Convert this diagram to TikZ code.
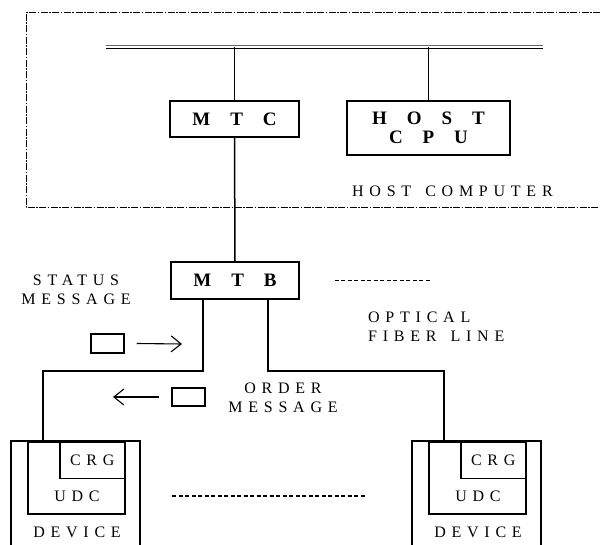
\documentclass[tikz,border=0pt]{standalone}
\usepackage{fontspec}
\setmainfont{Liberation Serif}
\newfontfamily\boxfont[LetterSpace=105]{Liberation Serif}
\newfontfamily\lblfont[LetterSpace=36]{Liberation Serif}
\usetikzlibrary{arrows.meta}
\usetikzlibrary{positioning,calc}

\tikzset{
  unitbox/.style={draw,line width=1.7pt,inner sep=0pt,align=center,
    font=\boxfont\bfseries\fontsize{19}{19}\selectfont},
  lbl/.style={inner sep=0pt,align=center,font=\lblfont\fontsize{16}{18.5}\selectfont},
  link/.style={line width=1.5pt},
  msg/.style={draw,line width=1.5pt,minimum width=33pt,minimum height=19pt,inner sep=0pt},
  flow/.style={line width=1.1pt,-{Straight Barb[length=10pt,width=16pt]}},
  etc/.style={line width=1.4pt,dash pattern=on 4pt off 2.5pt},
  hostline/.style={line width=1pt,dash pattern=on 7pt off 1.5pt on 1.5pt off 1.5pt},
  busline/.style={line width=0.8pt}
}

\begin{document}
\begin{tikzpicture}[x=1pt,y=-1pt]
    \useasboundingbox (0,0) rectangle (600,545);
    % host computer
    \draw[hostline] (600,13) -- (26,13) -- (26,208) -- (600,208);
    \node[lbl,anchor=west] (hostlbl) at (352,191) {HOST\hskip 14pt\relax COMPUTER};
    \coordinate (busW) at (106,47);
    \coordinate (busE) at (543,47);
    \draw[busline,black!60] ([yshift=1.2pt]busW) -- ([yshift=1.2pt]busE);
    \draw[busline] ([yshift=-1.2pt]busW) -- ([yshift=-1.2pt]busE);
    \node[unitbox,minimum width=129pt,minimum height=36pt] (mtc) at (234.5,119) {MTC};
    \node[unitbox,minimum width=163pt,minimum height=54pt] (cpu) at (428.5,128) {HOST\\CPU};
    \draw[link] (mtc.north) -- (mtc.north |- busW);
    \draw[link] (cpu.north) -- (cpu.north |- busW);
    % branch box
    \node[unitbox,minimum width=128pt,minimum height=37pt] (mtb) at (235,280.5) {MTB};
    \draw[link] (mtc.south) -- (mtb.north);
    \draw[etc] ([xshift=35pt]mtb.east) -- ++(95,0);
    \node[lbl,align=left,anchor=west] (fiberlbl) at (368,326.5) {OPTICAL\\FIBER\hskip 14pt\relax LINE};
    % messages
    \node[lbl] (statuslbl) at (76,290) {STATUS\\MESSAGE};
    \node[msg] (status) at (107.5,343.5) {};
    \coordinate (statusto) at (182,344);
    \draw[flow] ([xshift=12pt]status.east) -- (statusto);
    \node[msg,minimum height=18pt] (order) at (188.5,397) {};
    \coordinate (orderto) at (113,397);
    \draw[flow] ([xshift=-12pt]order.west) -- (orderto);
    \node[lbl] (orderlbl) at (283,398) {ORDER\\MESSAGE};
    % devices
    \foreach \dx/\side in {0/L,401/R} {
      \draw[link] (11+\dx,545) -- (11+\dx,441) -- (140+\dx,441) -- (140+\dx,545);
      \node[draw,link,minimum width=97pt,minimum height=72pt,inner sep=0pt,anchor=north west]
        (udc\side) at (27+\dx,441) {};
      \node[draw,link,lbl,minimum width=65pt,minimum height=36.5pt,anchor=north east]
        (crg\side) at (udc\side.north east) {CRG};
      \node[lbl] (udctxt\side) at (77+\dx,496) {UDC};
      \node[lbl] (dev\side) at (77+\dx,532) {DEVICE};
    }
    \coordinate (tapL) at ([xshift=16pt]udcL.north west);
    \coordinate (tapR) at ([xshift=16pt]udcR.north west);
    \draw[link] ([xshift=-32pt]mtb.south) -- ++(0,71) -| (tapL);
    \draw[link] ([xshift=33pt]mtb.south) -- ++(0,71) -| (tapR);
    \draw[etc] (172,496) -- (365,496);
  \end{tikzpicture}
\end{document}
